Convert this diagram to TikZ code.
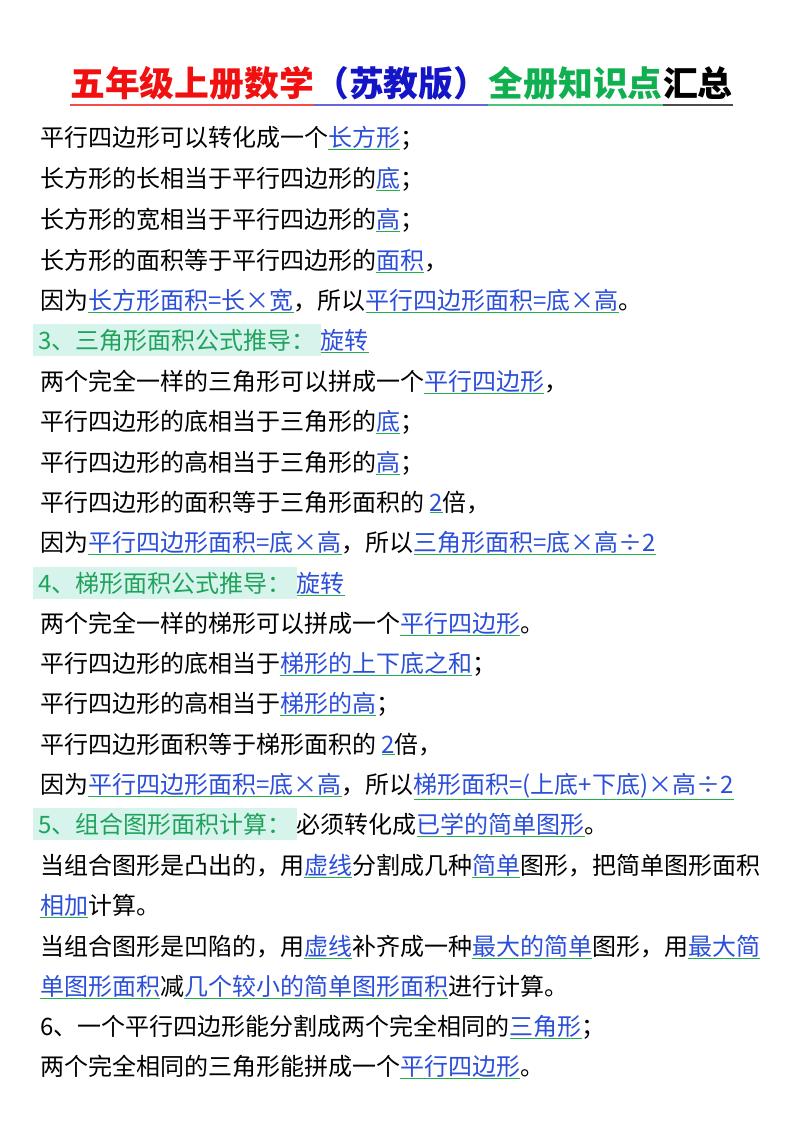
\documentclass[tikz,border=0pt]{standalone}
\usepackage{fontspec}
\setmainfont{Noto Sans CJK SC}
\definecolor{ansblue}{HTML}{2B4FD8}
\definecolor{ulgreen}{HTML}{22B04E}
\definecolor{hdgreen}{HTML}{1FA35C}
\definecolor{hdbox}{HTML}{D6F4EC}
\definecolor{tred}{HTML}{F01010}
\definecolor{tblue}{HTML}{1515C8}
\definecolor{tgreen}{HTML}{10B050}
\newcommand{\ans}[1]{{\color{ulgreen}\underline{\textcolor{ansblue}{#1}}}}
\newcommand{\hd}[1]{\setlength{\fboxsep}{5pt}\hspace*{-7pt}\colorbox{hdbox}{\textcolor{hdgreen}{#1}}}
\begin{document}
\begin{tikzpicture}[x=1pt,y=-1pt,
  ln/.style={anchor=base west,inner sep=0pt,font=\fontsize{24}{28}\selectfont},
  tt/.style={anchor=base west,inner sep=0pt,font=\fontsize{34.8}{38}\selectfont\bfseries}]
\useasboundingbox[fill=white] (0,0) rectangle (800,1132);
% title
\node[tt,text=tred] (t1) at (70,96) {五年级上册数学};
\node[tt,text=tblue,anchor=base west] (t2) at (t1.base east) {（苏教版）};
\node[tt,text=tgreen,anchor=base west] (t3) at (t2.base east) {全册知识点};
\node[tt,text=black,anchor=base west] (t4) at (t3.base east) {汇总};
\coordinate (u0) at (70,105);
\draw[tred!75,line width=1.5pt] (u0) -- (u0 -| t1.east);
\draw[tblue!65,line width=1.5pt] (u0 -| t2.west) -- (u0 -| t2.east);
\draw[tgreen!75,line width=1.5pt] (u0 -| t3.west) -- (u0 -| t3.east);
\draw[black!70,line width=1.5pt] (u0 -| t4.west) -- (u0 -| t4.east);
% body
\node[ln] (l1) at (40,146) {平行四边形可以转化成一个\ans{长方形}；};
\node[ln] (l2) at (40,187) {长方形的长相当于平行四边形的\ans{底}；};
\node[ln] (l3) at (40,228) {长方形的宽相当于平行四边形的\ans{高}；};
\node[ln] (l4) at (40,269) {长方形的面积等于平行四边形的\ans{面积}，};
\node[ln] (l5) at (40,309) {因为\ans{长方形面积=长×宽}，所以\ans{平行四边形面积=底×高}。};
\node[ln] (l6) at (40,349) {\hd{3、三角形面积公式推导：}\ans{旋转}};
\node[ln] (l7) at (40,390) {两个完全一样的三角形可以拼成一个\ans{平行四边形}，};
\node[ln] (l8) at (40,430) {平行四边形的底相当于三角形的\ans{底}；};
\node[ln] (l9) at (40,471) {平行四边形的高相当于三角形的\ans{高}；};
\node[ln] (l10) at (40,511) {平行四边形的面积等于三角形面积的 \ans{2}倍，};
\node[ln] (l11) at (40,551) {因为\ans{平行四边形面积=底×高}，所以\ans{三角形面积=底×高÷2}};
\node[ln] (l12) at (40,592) {\hd{4、梯形面积公式推导：}\ans{旋转}};
\node[ln] (l13) at (40,632) {两个完全一样的梯形可以拼成一个\ans{平行四边形}。};
\node[ln] (l14) at (40,672) {平行四边形的底相当于\ans{梯形的上下底之和}；};
\node[ln] (l15) at (40,712) {平行四边形的高相当于\ans{梯形的高}；};
\node[ln] (l16) at (40,753) {平行四边形面积等于梯形面积的 \ans{2}倍，};
\node[ln] (l17) at (40,793) {因为\ans{平行四边形面积=底×高}，所以\ans{梯形面积=(上底+下底)×高÷2}};
\node[ln] (l18) at (40,833) {\hd{5、组合图形面积计算：}必须转化成\ans{已学的简单图形}。};
\node[ln] (l19) at (40,874) {当组合图形是凸出的，用\ans{虚线}分割成几种\ans{简单}图形，把简单图形面积};
\node[ln] (l20) at (40,914) {\ans{相加}计算。};
\node[ln] (l21) at (40,955) {当组合图形是凹陷的，用\ans{虚线}补齐成一种\ans{最大的简单}图形，用\ans{最大简}};
\node[ln] (l22) at (40,995) {\ans{单图形面积}减\ans{几个较小的简单图形面积}进行计算。};
\node[ln] (l23) at (40,1035) {6、一个平行四边形能分割成两个完全相同的\ans{三角形}；};
\node[ln] (l24) at (40,1075) {两个完全相同的三角形能拼成一个\ans{平行四边形}。};
\end{tikzpicture}
\end{document}
